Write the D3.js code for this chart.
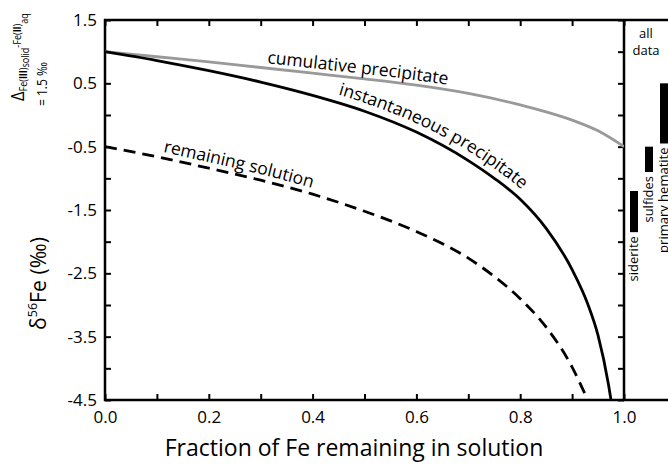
<!DOCTYPE html>
<html>
<head>
<meta charset="utf-8">
<script src="https://cdn.jsdelivr.net/npm/d3@7/dist/d3.min.js"></script>
<style>
  body { margin: 0; background: #fff; }
  svg { display: block; font-family: "Open Sans", sans-serif; }
  .axis path.domain { display: none; }
  .axis line { stroke: #000; stroke-width: 2; }
  .axis text { font-size: 17px; fill: #000; font-family: "Open Sans", sans-serif; }
</style>
</head>
<body>
<svg class="chart" width="668" height="467"></svg>
<script>
// Values
var fracX = [0, 0.1, 0.2, 0.3, 0.4, 0.5, 0.6, 0.7, 0.75, 0.8, 0.85, 0.9, 0.93, 0.95, 0.97, 0.975];
var instantaneous = [1.00, 0.86, 0.70, 0.52, 0.31, 0.06, -0.27, -0.72, -1.00, -1.33, -1.79, -2.44, -2.98, -3.48, -4.25, -4.50];

var cumX = [0, 0.1, 0.2, 0.3, 0.4, 0.5, 0.6, 0.7, 0.8, 0.85, 0.9, 0.95, 1.0];
var cumulative = [1.00, 0.92, 0.84, 0.75, 0.66, 0.57, 0.47, 0.34, 0.16, 0.05, -0.08, -0.25, -0.50];

var solX = [0, 0.1, 0.2, 0.3, 0.4, 0.5, 0.6, 0.7, 0.75, 0.8, 0.85, 0.9, 0.93];
var solution = [-0.50, -0.66, -0.84, -1.03, -1.25, -1.52, -1.84, -2.26, -2.55, -2.90, -3.35, -3.98, -4.50];

var rangeGroups = ['siderite', 'sulfides', 'primary hematite'];
var rangeLow = [-1.85, -0.9, -0.45];
var rangeHigh = [-1.2, -0.5, 0.5];

var xTicks = [0, 0.1, 0.2, 0.3, 0.4, 0.5, 0.6, 0.7, 0.8, 0.9, 1.0];
var xLabels = [0, 0.2, 0.4, 0.6, 0.8, 1.0];
var yTicks = [1.5, 1.0, 0.5, 0, -0.5, -1.0, -1.5, -2.0, -2.5, -3.0, -3.5, -4.0, -4.5];
var yLabels = [1.5, 0.5, -0.5, -1.5, -2.5, -3.5, -4.5];

// Layout
var width = 668;
var margin = {top: 20, left: 105};
var plotW = 519;
var plotH = 380;

var x = d3.scaleLinear().domain([0, 1]).range([margin.left, margin.left + plotW]);
var y = d3.scaleLinear().domain([1.5, -4.5]).range([margin.top, margin.top + plotH]);

var svg = d3.select('.chart');
var defs = svg.append('defs');

defs.append('clipPath').attr('id', 'plot-clip')
  .append('rect')
  .attr('x', x(0)).attr('y', y(1.5) - 2)
  .attr('width', x(1) - x(0)).attr('height', y(-4.5) - y(1.5) + 2);

function hasVal (list, v) {
  return list.some(function (t) { return Math.abs(t - v) < 1e-9; });
}

// Axes (ticks pointing inward)
svg.append('g').attr('class', 'axis')
  .attr('transform', 'translate(0,' + y(-4.5) + ')')
  .call(d3.axisBottom(x).tickValues(xTicks).tickSize(-6).tickSizeOuter(0).tickPadding(11)
    .tickFormat(function (d) { return hasVal(xLabels, d) ? d3.format('.1f')(d) : ''; }));

svg.append('g').attr('class', 'axis')
  .attr('transform', 'translate(0,' + y(1.5) + ')')
  .call(d3.axisTop(x).tickValues(xTicks).tickSize(-6).tickSizeOuter(0).tickFormat(''));

svg.append('g').attr('class', 'axis')
  .attr('transform', 'translate(' + x(0) + ',0)')
  .call(d3.axisLeft(y).tickValues(yTicks).tickSize(-6).tickSizeOuter(0).tickPadding(8)
    .tickFormat(function (d) { return hasVal(yLabels, d) ? d3.format('.1f')(d).replace('−', '-') : ''; }));

svg.append('g').attr('class', 'axis')
  .attr('transform', 'translate(' + x(1) + ',0)')
  .call(d3.axisLeft(y).tickValues(yTicks).tickSize(6).tickSizeOuter(0).tickFormat(''));

// Frame
var frame = svg.append('g').attr('stroke', '#000').attr('stroke-width', 2.5);
frame.append('line').attr('x1', x(0)).attr('x2', x(0)).attr('y1', y(1.5) - 1).attr('y2', y(-4.5) + 1);
frame.append('line').attr('x1', x(1)).attr('x2', x(1)).attr('y1', y(1.5) - 1).attr('y2', y(-4.5) + 1);
frame.append('line').attr('x1', x(0) - 1).attr('x2', width).attr('y1', y(1.5)).attr('y2', y(1.5));
frame.append('line').attr('x1', x(0) - 1).attr('x2', width).attr('y1', y(-4.5)).attr('y2', y(-4.5));

// Curves
function pairs (xs, ys) {
  return xs.map(function (v, i) { return [v, ys[i]]; });
}
var line = d3.line()
  .x(function (d) { return x(d[0]); })
  .y(function (d) { return y(d[1]); })
  .curve(d3.curveMonotoneX);

var curves = svg.append('g').attr('clip-path', 'url(#plot-clip)').attr('fill', 'none');

curves.append('path').datum(pairs(cumX, cumulative))
  .attr('d', line).attr('stroke', '#999').attr('stroke-width', 2.8);

curves.append('path').datum(pairs(fracX, instantaneous))
  .attr('d', line).attr('stroke', '#000').attr('stroke-width', 2.8);

curves.append('path').datum(pairs(solX, solution))
  .attr('d', line).attr('stroke', '#000').attr('stroke-width', 2.8)
  .attr('stroke-dasharray', '12,7');

// Curve labels along offset paths
function offsetLine (dx, dy) {
  return d3.line()
    .x(function (d) { return x(d[0]) + dx; })
    .y(function (d) { return y(d[1]) + dy; })
    .curve(d3.curveMonotoneX);
}

function lengthAtX (node, px) {
  var lo = 0, hi = node.getTotalLength();
  for (var k = 0; k < 40; k++) {
    var mid = (lo + hi) / 2;
    if (node.getPointAtLength(mid).x < px) lo = mid; else hi = mid;
  }
  return lo;
}

var labelDefs = [
  {id: 'lp-cum', data: pairs(cumX, cumulative), dx: 0, dy: -5, startX: 267, text: 'cumulative precipitate'},
  {id: 'lp-inst', data: pairs(fracX, instantaneous), dx: 4, dy: -7, startX: 338, text: 'instantaneous precipitate'},
  {id: 'lp-sol', data: pairs(solX, solution), dx: 0, dy: -6, startX: 163, text: 'remaining solution'}
];

labelDefs.forEach(function (l) {
  var p = defs.append('path').attr('id', l.id)
    .attr('d', offsetLine(l.dx, l.dy)(l.data));
  var off = lengthAtX(p.node(), l.startX);
  svg.append('text')
    .attr('font-size', 17.5)
    .attr('fill', '#000')
    .append('textPath')
    .attr('href', '#' + l.id)
    .attr('startOffset', off)
    .text(l.text);
});

// Right-hand ranges ("all data")
var band = d3.scaleBand().domain(rangeGroups).range([x(1) + 6, width]).paddingInner(0.467).paddingOuter(0);

var ranges = svg.append('g').selectAll('g').data(rangeGroups).enter().append('g');

ranges.append('rect')
  .attr('x', function (d) { return band(d); })
  .attr('width', band.bandwidth())
  .attr('y', function (d, i) { return y(rangeHigh[i]); })
  .attr('height', function (d, i) { return y(rangeLow[i]) - y(rangeHigh[i]); })
  .attr('fill', '#000');

ranges.append('g')
  .attr('transform', function (d, i) {
    return 'translate(' + (band(d) + band.bandwidth()) + ',' + (y(rangeLow[i]) + 4) + ') rotate(-90)';
  })
  .append('text')
  .attr('text-anchor', 'end')
  .attr('font-size', 13)
  .text(function (d) { return d; });

svg.append('text').attr('font-size', 13).attr('text-anchor', 'middle')
  .attr('x', 646).attr('y', 38).text('all');
svg.append('text').attr('font-size', 13).attr('text-anchor', 'middle')
  .attr('x', 646).attr('y', 55).text('data');

// Axis titles
svg.append('text')
  .attr('x', 354).attr('y', 456)
  .attr('text-anchor', 'middle')
  .attr('font-size', 23)
  .text('Fraction of Fe remaining in solution');

// vertical titles: start at the lower end, read upward, squeezed to the length seen
function verticalText (px, bottom, maxLen, size) {
  var t = svg.append('g')
    .attr('transform', 'translate(' + px + ',' + bottom + ') rotate(-90)')
    .append('text')
    .attr('font-size', size);
  t.fit = function () {
    var len = t.node().getComputedTextLength();
    if (len > maxLen) t.attr('transform', 'scale(' + (maxLen / len) + ',1)');
  };
  return t;
}

var yTitle = verticalText(46, 330, 93, 22);
yTitle.append('tspan').text('δ');
yTitle.append('tspan').attr('font-size', 13).attr('dy', -9).text('56');
yTitle.append('tspan').attr('dy', 9).text('Fe (‰)');
yTitle.fit();

var delta = verticalText(24, 101, 88, 19);
delta.append('tspan').text('Δ');
delta.append('tspan').attr('font-size', 10.5).attr('dy', 3).text('Fe(');
delta.append('tspan').attr('font-size', 10.5).attr('font-weight', 'bold').text('III');
delta.append('tspan').attr('font-size', 10.5).text(')');
delta.append('tspan').attr('font-size', 10.5).attr('dy', 2).text('solid');
delta.append('tspan').attr('font-size', 10.5).attr('dy', -8).text('-Fe(');
delta.append('tspan').attr('font-size', 10.5).attr('font-weight', 'bold').text('II');
delta.append('tspan').attr('font-size', 10.5).text(')');
delta.append('tspan').attr('font-size', 10.5).attr('dy', 7).text('aq');
delta.fit();

var eq = verticalText(47, 106, 44, 15);
eq.text('= 1.5 ‰');
eq.fit();
</script>
</body>
</html>
